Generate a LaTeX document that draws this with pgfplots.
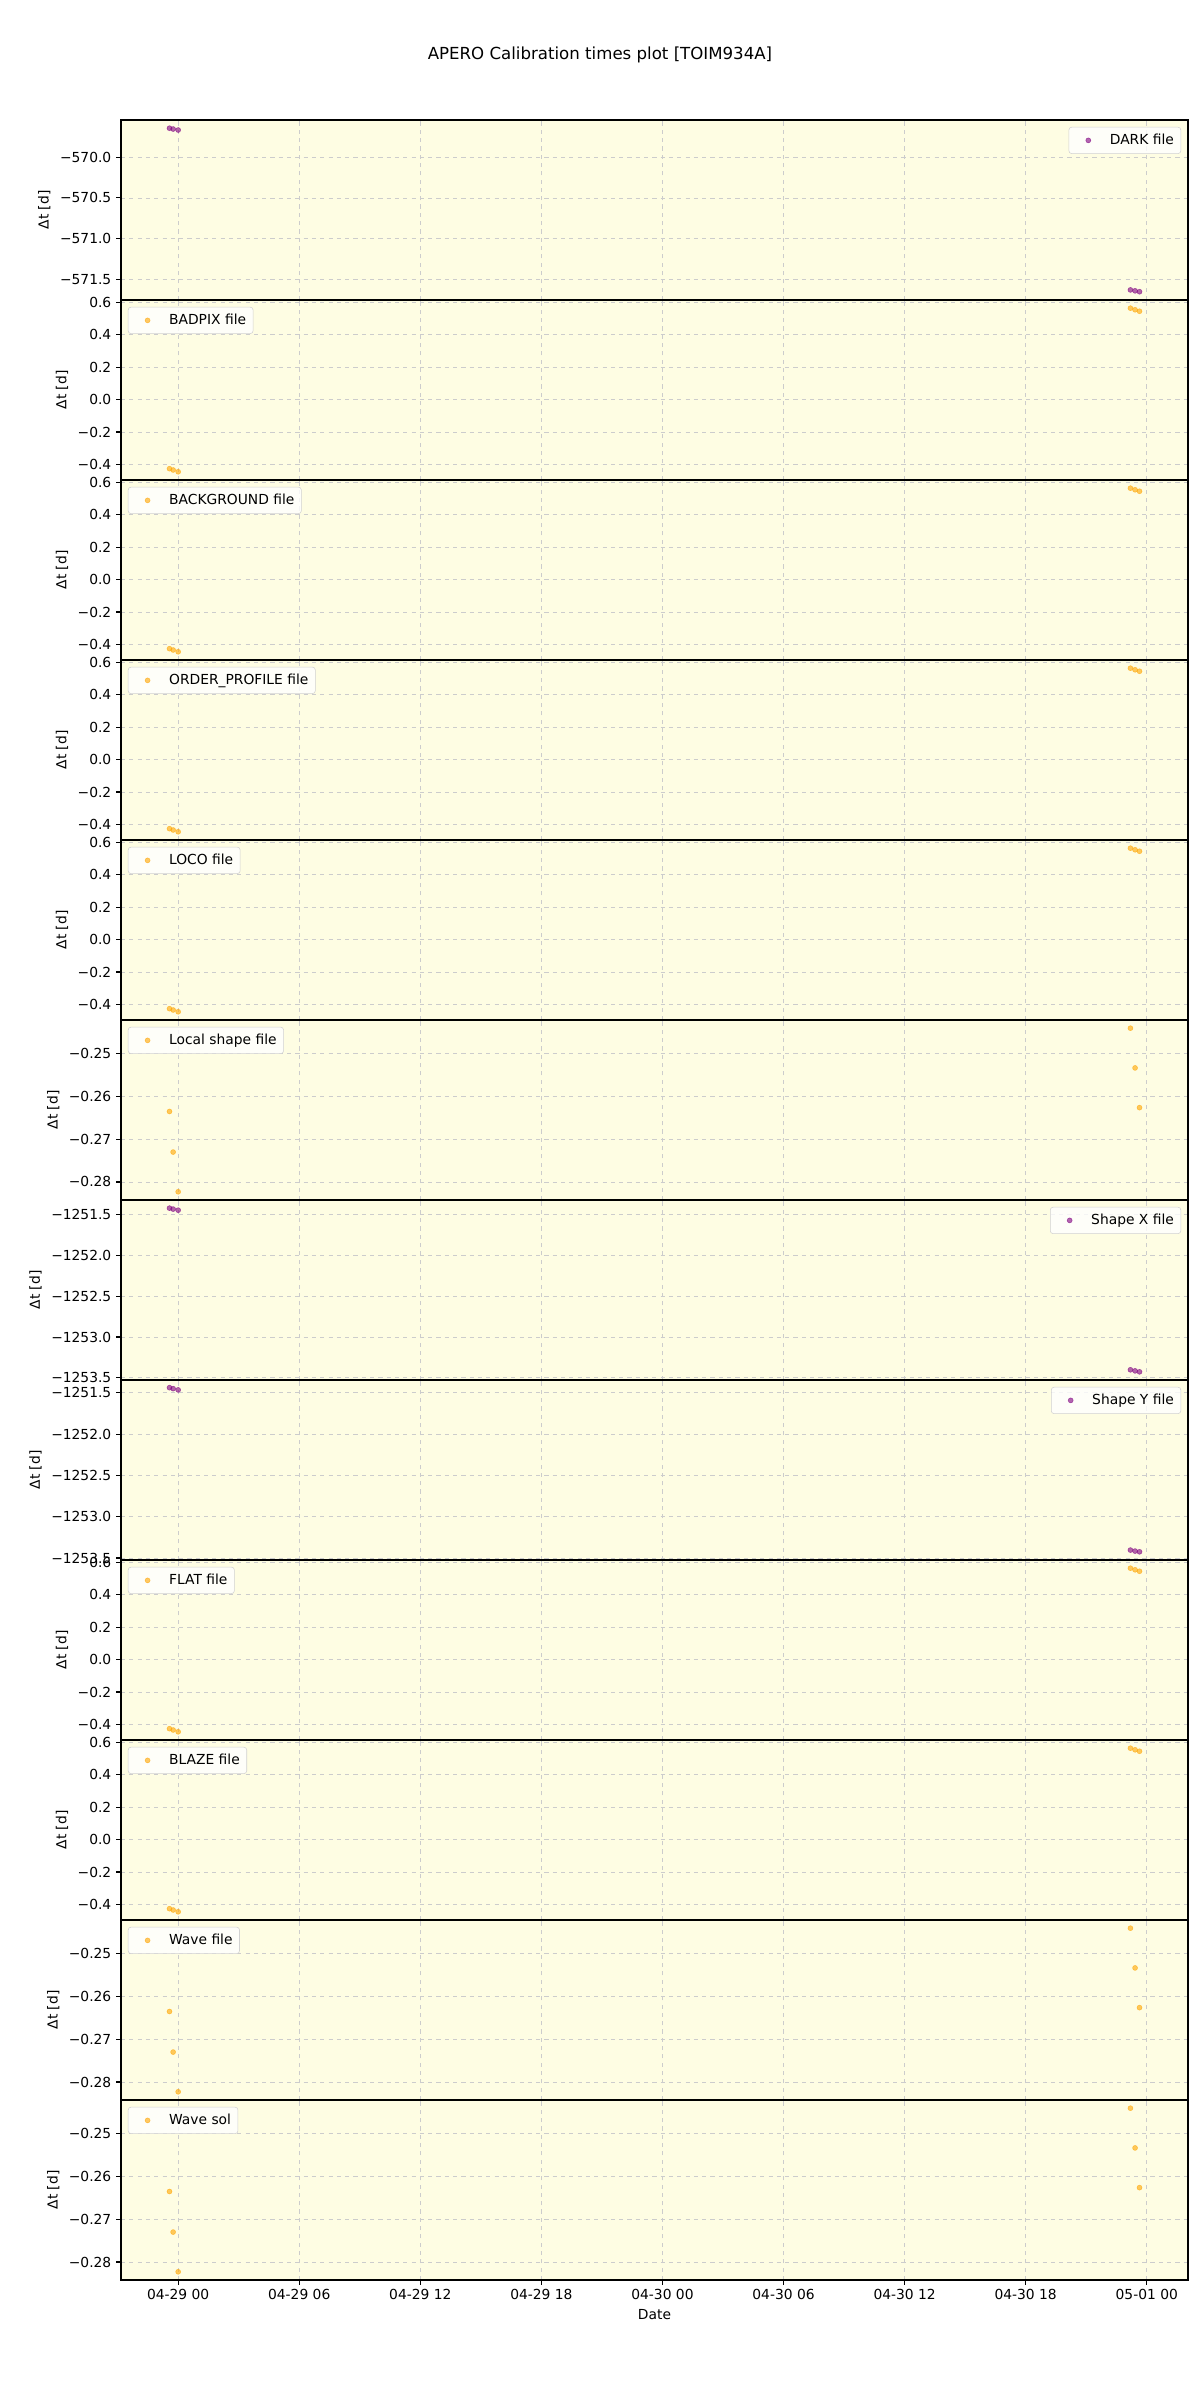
\documentclass[border=0pt]{standalone}
\usepackage{fontspec}
\setmainfont{DejaVu Sans}
\usepackage{pgfplots}
\pgfplotsset{compat=1.18}
\definecolor{bgyellow}{HTML}{FEFDE3}
\definecolor{mplorange}{HTML}{FFA500}
\definecolor{mplpurple}{HTML}{800080}
\pgfplotsset{
  panel/.style={
    scale only axis, width=10.67in, height=1.8in, anchor=north west,
    xmin=-2.8335, xmax=50.0435,
    xtick={0,6,12,18,24,30,36,42,48}, xticklabels={},
    xtick pos=bottom, ytick pos=left,
    tick align=outside, major tick length=3.5pt,
    every tick/.style={black, line width=0.8pt},
    grid=major, major grid style={dashed, line width=0.6pt, color=black!20},
    axis background/.style={fill=bgyellow},
    axis line style={line width=0.8pt},
    ylabel={Δt [d]},
    label style={font=\fontsize{10}{12}\selectfont},
    tick label style={font=\fontsize{10}{12}\selectfont},
    legend image code/.code={\path (0cm,0cm) (0.85cm,0cm); \draw[#1] plot coordinates {(0.38cm,0cm)};},
    legend style={font=\fontsize{10}{12}\selectfont, draw=black!18, rounded corners=2pt,
      fill=white, fill opacity=0.8, text opacity=1, inner xsep=3pt, inner ysep=3pt,
      cells={anchor=west}},
  },
  legleft/.style={legend style={at={(0,1)}, anchor=north west, xshift=5pt, yshift=-5pt}},
  legright/.style={legend style={at={(1,1)}, anchor=north east, xshift=-5pt, yshift=-5pt}},
  pnlsmall/.style={ymin=-0.4955, ymax=0.6134, ytick={-0.4,-0.2,0,0.2,0.4,0.6},
    yticklabels={−0.4,−0.2,0.0,0.2,0.4,0.6}},
  pnltiny/.style={ymin=-0.28422, ymax=-0.24208, ytick={-0.28,-0.27,-0.26,-0.25},
    yticklabels={−0.28,−0.27,−0.26,−0.25}},
  pnlshape/.style={ytick={-1253.5,-1253,-1252.5,-1252,-1251.5},
    yticklabels={−1253.5,−1253.0,−1252.5,−1252.0,−1251.5}},
  orng/.style={only marks, mark=*, mark size=1.8pt, color=mplorange, mark options={opacity=0.6}},
  purp/.style={only marks, mark=*, mark size=1.8pt, color=mplpurple, mark options={opacity=0.6}},
}
\pgfplotstableread{
x y
-0.43 -0.426
-0.25 -0.434
0.00 -0.445
47.19 0.563
47.42 0.553
47.64 0.544
}\smalldata
\pgfplotstableread{
x y
-0.43 -0.2635
-0.25 -0.2730
0.00 -0.2823
47.19 -0.2440
47.42 -0.2533
47.64 -0.2626
}\tinydata
\begin{document}
\begin{tikzpicture}
\useasboundingbox (0,0) rectangle (12in,24in);
\node at (6in,23.45in) {\fontsize{12}{14}\selectfont APERO Calibration times plot [TOIM934A]};

% 1 DARK
\begin{axis}[panel, legright, at={(1.21in,22.8in)}, ymin=-571.75, ymax=-569.545,
  ytick={-571.5,-571,-570.5,-570}, yticklabels={−571.5,−571.0,−570.5,−570.0}]
\addplot[purp] coordinates {(-0.43,-569.646) (-0.25,-569.656) (0,-569.668) (47.19,-571.627) (47.42,-571.638) (47.64,-571.649)};
\addlegendentry{DARK file}
\end{axis}
% 2 BADPIX
\begin{axis}[panel, legleft, pnlsmall, at={(1.21in,21.0in)}]
\addplot[orng] table[x=x,y=y] {\smalldata};
\addlegendentry{BADPIX file}
\end{axis}
% 3 BACKGROUND
\begin{axis}[panel, legleft, pnlsmall, at={(1.21in,19.2in)}]
\addplot[orng] table[x=x,y=y] {\smalldata};
\addlegendentry{BACKGROUND file}
\end{axis}
% 4 ORDER_PROFILE
\begin{axis}[panel, legleft, pnlsmall, at={(1.21in,17.4in)}]
\addplot[orng] table[x=x,y=y] {\smalldata};
\addlegendentry{ORDER\_PROFILE file}
\end{axis}
% 5 LOCO
\begin{axis}[panel, legleft, pnlsmall, at={(1.21in,15.6in)}]
\addplot[orng] table[x=x,y=y] {\smalldata};
\addlegendentry{LOCO file}
\end{axis}
% 6 Local shape
\begin{axis}[panel, legleft, pnltiny, at={(1.21in,13.8in)}]
\addplot[orng] table[x=x,y=y] {\tinydata};
\addlegendentry{Local shape file}
\end{axis}
% 7 Shape X
\begin{axis}[panel, legright, pnlshape, at={(1.21in,12.0in)}, ymin=-1253.527, ymax=-1251.318]
\addplot[purp] coordinates {(-0.43,-1251.418) (-0.25,-1251.430) (0,-1251.443) (47.19,-1253.402) (47.42,-1253.415) (47.64,-1253.427)};
\addlegendentry{Shape X file}
\end{axis}
% 8 Shape Y
\begin{axis}[panel, legright, pnlshape, at={(1.21in,10.2in)}, ymin=-1253.524, ymax=-1251.345]
\addplot[purp] coordinates {(-0.43,-1251.438) (-0.25,-1251.450) (0,-1251.465) (47.19,-1253.404) (47.42,-1253.416) (47.64,-1253.425)};
\addlegendentry{Shape Y file}
\end{axis}
% 9 FLAT
\begin{axis}[panel, legleft, pnlsmall, at={(1.21in,8.4in)}]
\addplot[orng] table[x=x,y=y] {\smalldata};
\addlegendentry{FLAT file}
\end{axis}
% 10 BLAZE
\begin{axis}[panel, legleft, pnlsmall, at={(1.21in,6.6in)}]
\addplot[orng] table[x=x,y=y] {\smalldata};
\addlegendentry{BLAZE file}
\end{axis}
% 11 Wave file
\begin{axis}[panel, legleft, pnltiny, at={(1.21in,4.8in)}]
\addplot[orng] table[x=x,y=y] {\tinydata};
\addlegendentry{Wave file}
\end{axis}
% 12 Wave sol
\begin{axis}[panel, legleft, pnltiny, at={(1.21in,3.0in)},
  xticklabels={04-29 00,04-29 06,04-29 12,04-29 18,04-30 00,04-30 06,04-30 12,04-30 18,05-01 00},
  xlabel={Date}]
\addplot[orng] table[x=x,y=y] {\tinydata};
\addlegendentry{Wave sol}
\end{axis}
\end{tikzpicture}
\end{document}
